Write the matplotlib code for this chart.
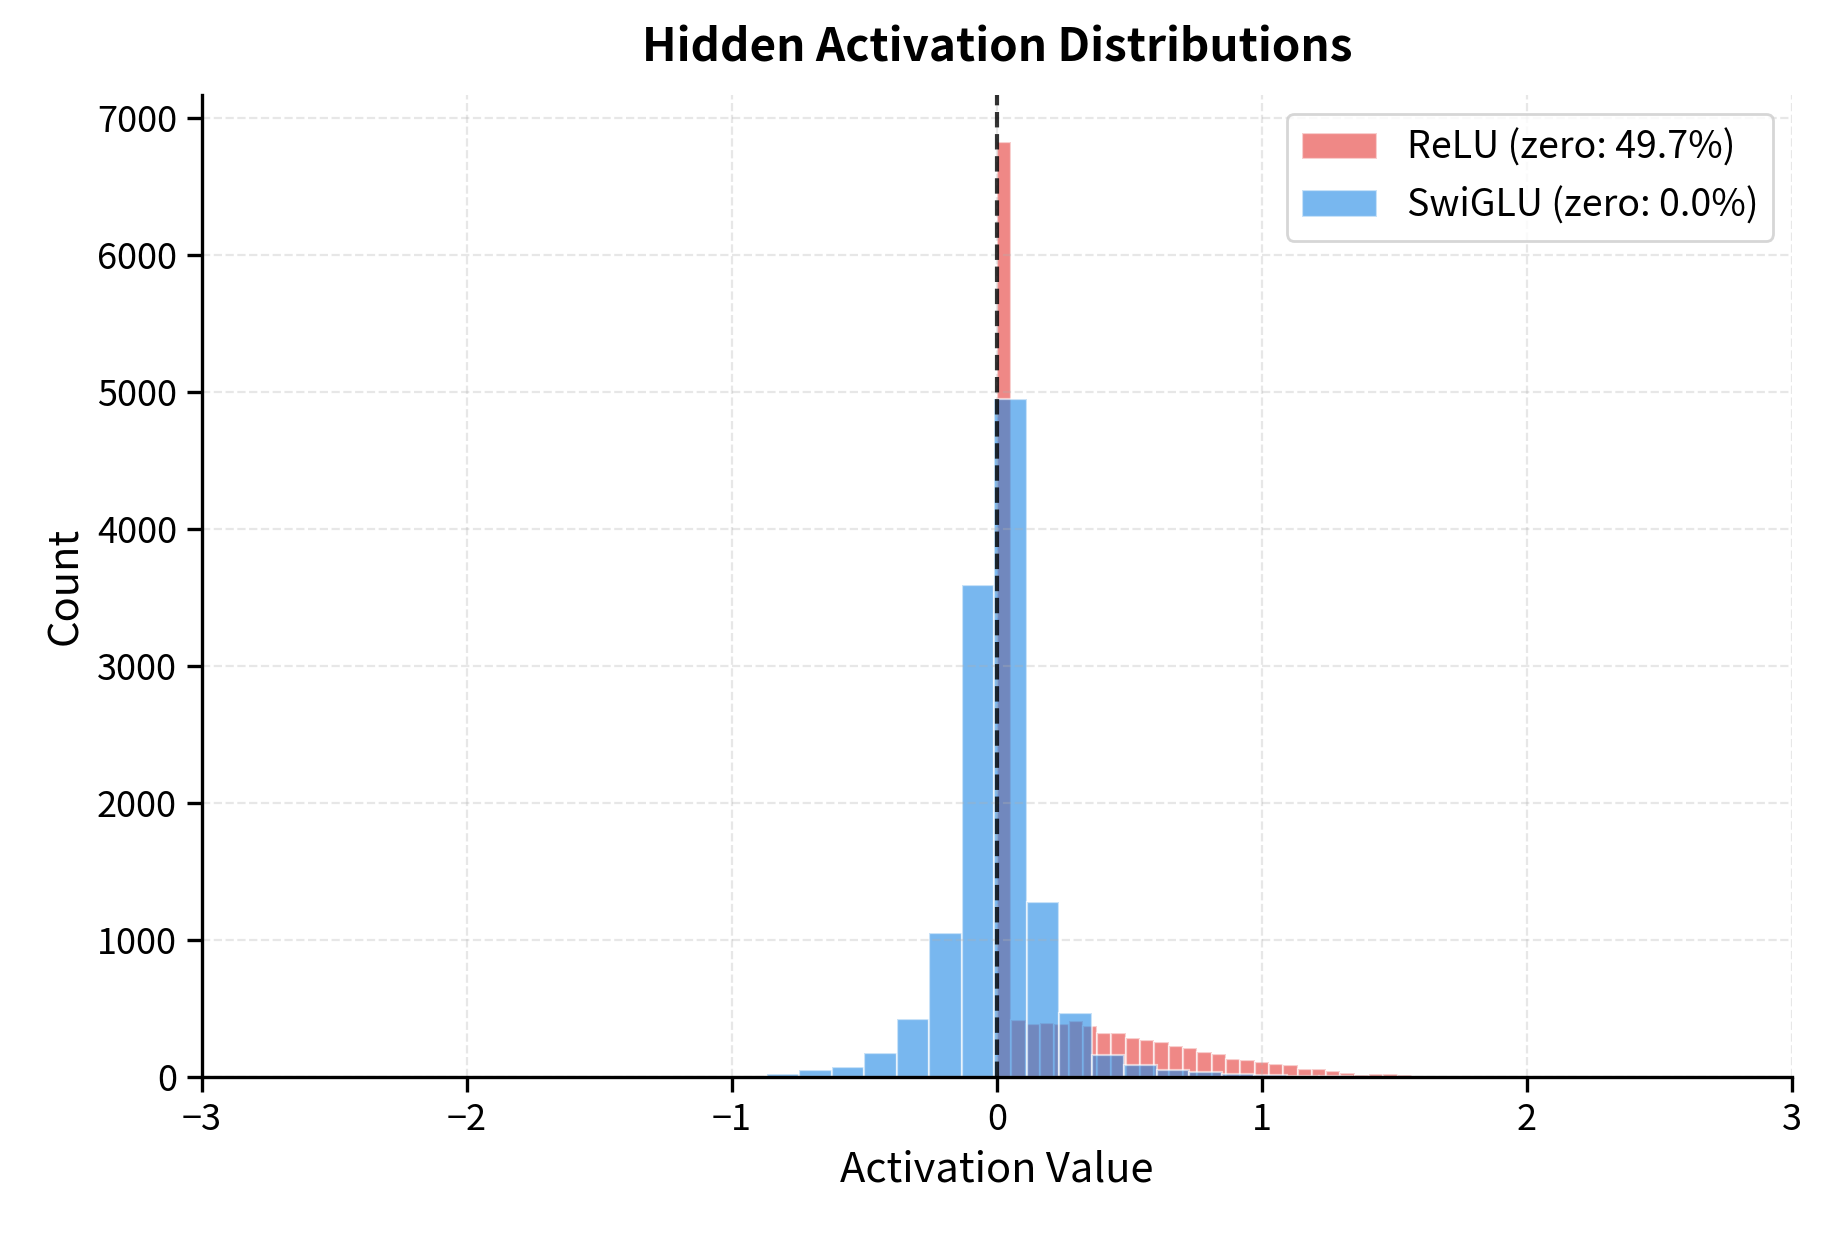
import numpy as np
import matplotlib
matplotlib.use("Agg")
import matplotlib.pyplot as plt

plt.rcParams['font.family'] = ['Noto Sans CJK SC', 'DejaVu Sans']

# histogram counts (50 bins each)
relu_range = (0.0, 2.7)
relu_counts = [6830, 415, 390, 398, 390, 410, 373, 320, 320, 283,
               270, 253, 225, 210, 180, 165, 130, 122, 106, 93,
               84, 62, 56, 41, 32, 17, 23, 22, 15, 8,
               6, 5, 4, 3, 2, 2, 1, 1, 0, 0,
               0, 0, 0, 0, 0, 0, 0, 0, 0, 1]

swiglu_range = (-3.321, 2.809)
swiglu_counts = [1, 0, 0, 0, 0, 0, 0, 0, 0, 0,
                 0, 0, 0, 0, 0, 0, 1, 2, 4, 7,
                 25, 51, 73, 173, 422, 1049, 3590, 4955, 1280, 468,
                 164, 91, 49, 37, 20, 12, 8, 5, 3, 2,
                 1, 0, 0, 0, 0, 0, 0, 0, 0, 1]

relu_zero_pct = 49.7
swiglu_zero_pct = 0.0

relu_edges = np.linspace(relu_range[0], relu_range[1], len(relu_counts) + 1)
swiglu_edges = np.linspace(swiglu_range[0], swiglu_range[1], len(swiglu_counts) + 1)

fig = plt.figure(figsize=(9.17, 6.17), dpi=200)
ax = fig.add_axes([202 / 1834, 157 / 1234, 1590 / 1834, 982 / 1234])

ax.hist((relu_edges[:-1] + relu_edges[1:]) / 2, bins=relu_edges, weights=relu_counts,
        color='#E53935', alpha=0.6, edgecolor='white', linewidth=0.8,
        label=f'ReLU (zero: {relu_zero_pct:.1f}%)')
ax.hist((swiglu_edges[:-1] + swiglu_edges[1:]) / 2, bins=swiglu_edges, weights=swiglu_counts,
        color='#1E88E5', alpha=0.6, edgecolor='white', linewidth=0.8,
        label=f'SwiGLU (zero: {swiglu_zero_pct:.1f}%)')

ax.axvline(0, color='black', linestyle='--', linewidth=1.5, alpha=0.8)

ax.set_xlim(-3, 3)
ax.set_xlabel('Activation Value', fontsize=15)
ax.set_ylabel('Count', fontsize=15)
ax.set_title('Hidden Activation Distributions', fontsize=16.5, fontweight='bold', pad=12)
ax.tick_params(labelsize=13, length=5.5, width=1.2)
ax.grid(True, linestyle='--', alpha=0.3)
ax.spines['top'].set_visible(False)
ax.spines['right'].set_visible(False)
ax.spines['left'].set_linewidth(1.2)
ax.spines['bottom'].set_linewidth(1.2)
ax.legend(fontsize=13.5, loc='upper right')

fig.savefig('out.png', dpi=200)
